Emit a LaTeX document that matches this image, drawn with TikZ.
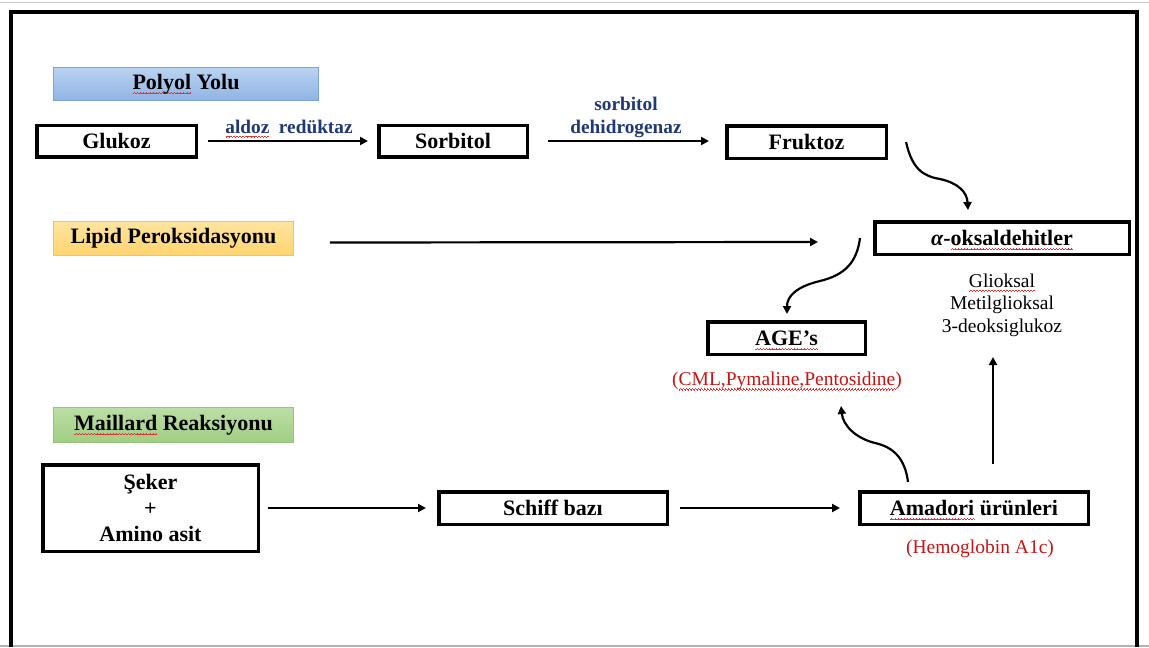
\documentclass[tikz,border=0pt]{standalone}
\usepackage{fontspec}
\setmainfont{Liberation Serif}
\usetikzlibrary{arrows.meta,calc}

\definecolor{enzym}{RGB}{31,56,120}
\definecolor{kirmizi}{RGB}{200,20,20}
\definecolor{dalga}{RGB}{230,50,50}

% red wavy underline as in the screenshot
\newsavebox\kelime
\newcommand\dalgaparca{\hbox{\rule[-4.6pt]{0.75pt}{0.7pt}\rule[-4pt]{0.75pt}{0.7pt}\rule[-3.4pt]{0.75pt}{0.7pt}\rule[-4pt]{0.75pt}{0.7pt}}}
\newcommand\spellmark[1]{\sbox\kelime{#1}\rlap{\smash{\hbox to \wd\kelime{\color{dalga}\xleaders\dalgaparca\hfill}}}#1}

\tikzset{
  kutu/.style={draw, line width=3.5pt, inner sep=0pt, font=\fontsize{22}{26}\selectfont\bfseries},
  baslik/.style={line width=0.8pt, inner sep=0pt, font=\fontsize{22}{26}\selectfont\bfseries},
  enz/.style={text=enzym, inner sep=0pt, font=\fontsize{19.3}{23}\selectfont\bfseries},
  notlar/.style={inner sep=0pt, font=\fontsize{19.5}{22.5}\selectfont},
  ok/.style={-{Triangle[length=8pt,width=8pt]}, line width=2.2pt}
}

\begin{document}
\begin{tikzpicture}[x=1pt,y=-1pt]
        \useasboundingbox (0,0) rectangle (1149,648);
        % screenshot edges and frame
        \draw[black!20, line width=1.5pt] (0,2.5) -- (1149,2.5);
        \draw[black!30, line width=1.5pt] (0,646) -- (1149,646);
        \draw[line width=3.5pt] (11,647) -- (11,12) -- (1137,12) -- (1137,647);

        % section titles
        \node[baslik, draw={rgb,255:red,125;green,165;blue,220}, top color={rgb,255:red,186;green,211;blue,241}, bottom color={rgb,255:red,143;green,180;blue,228}, minimum width=265pt, minimum height=33pt] (polyol) at (186,84) {\spellmark{Polyol} Yolu};
        \node[baslik, draw={rgb,255:red,246;green,196;blue,80}, top color={rgb,255:red,255;green,228;blue,160}, bottom color={rgb,255:red,255;green,212;blue,110}, minimum width=240pt, minimum height=34pt] (lipid) at (173.5,238.5) {Lipid Peroksidasyonu};
        \node[baslik, draw={rgb,255:red,150;green,196;blue,120}, top color={rgb,255:red,188;green,222;blue,165}, bottom color={rgb,255:red,160;green,206;blue,130}, minimum width=240pt, minimum height=35pt] (maillard) at (173.5,425) {\spellmark{Maillard} Reaksiyonu};

        % polyol yolu
        \node[kutu, minimum width=159.5pt, minimum height=31.5pt] (gluk) at (116.5,141) {Glukoz};
        \node[kutu, minimum width=148.5pt, minimum height=31.5pt] (sorb) at (453,141) {Sorbitol};
        \node[kutu, minimum width=159.5pt, minimum height=32.5pt] (fruk) at (806.5,142) {Fruktoz};
        \node[enz, anchor=base] (aldoz) at (289,133) {\spellmark{aldoz}\ \ redüktaz};
        \node[enz, align=center] (sdh) at (626,117) {sorbitol\\dehidrogenaz};

        % oksaldehitler and AGE's
        \node[kutu, minimum width=254.5pt, minimum height=32.5pt] (oksal) at (1002,238) {{\itshape α}-\spellmark{oksaldehitler}};
        \node[notlar, align=center] (glio) at (1002,305) {\spellmark{Glioksal}\\Metilglioksal\\3-deoksiglukoz};
        \node[kutu, minimum width=157.5pt, minimum height=32.5pt] (age) at (786.5,338) {\spellmark{AGE’s}};
        \node[notlar, text=kirmizi] (cml) at (787,381) {(\spellmark{CML,Pymaline,Pentosidine})};

        % maillard reaksiyonu
        \node[kutu, align=center, minimum width=215.5pt, minimum height=86.5pt] (seker) at (150.5,508) {Şeker\\+\\Amino asit};
        \node[kutu, minimum width=228.5pt, minimum height=32.5pt] (schiff) at (553,508) {Schiff bazı};
        \node[kutu, minimum width=228.5pt, minimum height=32.5pt] (amad) at (974,508) {\spellmark{Amadori} ürünleri};
        \node[notlar, text=kirmizi] (hba) at (980,549) {(Hemoglobin A1c)};

        % free ends of the curved arrows
        \coordinate (fk1) at (906,142);
        \coordinate (fk2) at (968,210);
        \coordinate (ok1) at (860,238);
        \coordinate (ok2) at (787,314);
        \coordinate (am1) at (908,482);
        \coordinate (am2) at (841,406);
        \coordinate (up1) at (993,464);
        \coordinate (up2) at (993,357);

        \draw[ok, shorten <=10pt, shorten >=9pt] (gluk.east) -- (gluk.east -| sorb.west);
        \draw[ok, shorten <=19pt, shorten >=16pt] (sorb.east) -- (sorb.east -| fruk.west);
        \draw[ok] ($(lipid.east)+(36,4)$) -- ($(oksal.west)+(-55,4)$);
        \draw[ok, shorten <=8pt, shorten >=11pt] (seker.east) -- (schiff.west);
        \draw[ok, shorten <=11pt, shorten >=18pt] (schiff.east) -- (amad.west);
        \draw[ok] (fk1) .. controls (912,168) and (922,176) .. (940,179) .. controls (958,183) and (967,192) .. (fk2);
        \draw[ok] (ok1) .. controls (857,262) and (845,275) .. (820,281) .. controls (795,287) and (787,297) .. (ok2);
        \draw[ok] (am1) .. controls (905,458) and (893,447) .. (875,443) .. controls (855,438) and (843,425) .. (am2);
        \draw[ok] (up1) -- (up2);

    \end{tikzpicture}
\end{document}
